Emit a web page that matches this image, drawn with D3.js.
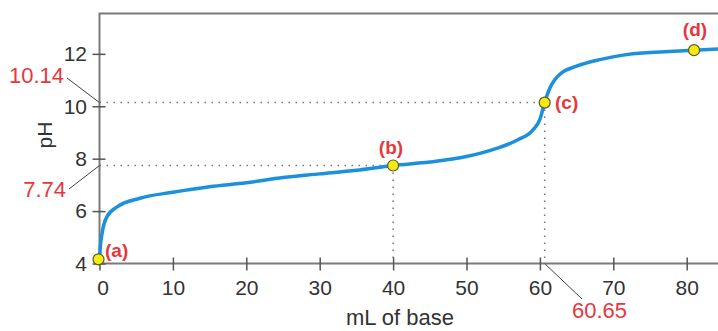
<!DOCTYPE html>
<html>
<head>
<meta charset="utf-8">
<script src="https://cdn.jsdelivr.net/npm/d3@7"></script>
<style>
  body { margin: 0; background: #fff; }
  svg { display: block; font-family: "Liberation Sans", Arial, sans-serif; }
</style>
</head>
<body>
<div id="chart"></div>
<script>
// titration curve
const volume = [0, 0.1, 0.35, 1, 2.4, 5.5, 10, 15, 20, 25, 30, 35, 40, 45, 50, 54, 57, 59, 60, 60.65, 61.3, 62, 63, 65, 68, 72, 77, 81, 85];
const pH = [4.16, 4.6, 5.15, 5.78, 6.16, 6.49, 6.72, 6.93, 7.08, 7.28, 7.42, 7.56, 7.74, 7.87, 8.08, 8.38, 8.72, 9.08, 9.5, 10.14, 10.66, 11.0, 11.28, 11.53, 11.77, 11.98, 12.08, 12.14, 12.2];

// marked points
const pointNames = ["(a)", "(b)", "(c)", "(d)"];
const pointVol = [0, 40, 60.65, 81];
const pointPH = [4.16, 7.74, 10.14, 12.14];

const xTicks = [0, 10, 20, 30, 40, 50, 60, 70, 80];
const yTicks = [4, 6, 8, 10, 12];

const width = 718, height = 331;
const red = "#e8373c";

const x = d3.scaleLinear().domain([0, 85]).range([99.5, 99.5 + 85 * 7.34]);
const y = d3.scaleLinear().domain([4, 13.54]).range([263.5, 13.5]);

const svg = d3.select("#chart").append("svg")
    .attr("width", width)
    .attr("height", height);

// dotted guides
const guides = [
    [x(0), y(10.14), x(60.65), y(10.14)],
    [x(0), y(7.74), x(40), y(7.74)],
    [x(40), y(7.74), x(40), y(4)],
    [x(60.65), y(10.14), x(60.65), y(4)]
];
svg.append("g")
    .attr("stroke", "#777")
    .attr("stroke-width", 1.5)
    .attr("stroke-dasharray", "1.5,5.5")
    .selectAll("line")
    .data(guides)
    .join("line")
    .attr("x1", d => d[0]).attr("y1", d => d[1])
    .attr("x2", d => d[2]).attr("y2", d => d[3]);

// frame: top, left, bottom
svg.append("path")
    .attr("d", `M${width + 5},${y.range()[1]}H${x(0)}V${y(4)}H${width + 5}`)
    .attr("fill", "none")
    .attr("stroke", "#7a7a7a")
    .attr("stroke-width", 2);

// axes
const xAxis = svg.append("g")
    .attr("transform", `translate(0,${y(4)})`)
    .call(d3.axisBottom(x).tickValues(xTicks).tickSize(7).tickPadding(10).tickFormat(d3.format("d")));
xAxis.select(".domain").remove();
xAxis.selectAll(".tick line").attr("y1", -6).attr("stroke", "#555").attr("stroke-width", 1.5);
xAxis.selectAll(".tick text").attr("font-size", 21).attr("fill", "#333").attr("font-family", null)
    .attr("dx", d => d === 0 ? 3 : 0);

const yAxis = svg.append("g")
    .attr("transform", `translate(${x(0)},0)`)
    .call(d3.axisLeft(y).tickValues(yTicks).tickSize(7).tickPadding(5.5));
yAxis.select(".domain").remove();
yAxis.selectAll(".tick line").attr("x1", 6).attr("stroke", "#555").attr("stroke-width", 1.5);
yAxis.selectAll(".tick text").attr("font-size", 21).attr("fill", "#333").attr("font-family", null);

// axis titles
svg.append("text")
    .attr("x", 400).attr("y", 325)
    .attr("text-anchor", "middle")
    .attr("font-size", 22).attr("fill", "#333")
    .text("mL of base");

svg.append("text")
    .attr("transform", "translate(52,135) rotate(-90)")
    .attr("text-anchor", "middle")
    .attr("font-size", 21).attr("fill", "#333")
    .text("pH");

// curve
const line = d3.line()
    .x((d, i) => x(volume[i]))
    .y(d => y(d))
    .curve(d3.curveMonotoneX);

svg.append("path")
    .datum(pH)
    .attr("d", line)
    .attr("fill", "none")
    .attr("stroke", "#1b90dd")
    .attr("stroke-width", 3.5)
    .attr("stroke-linejoin", "round")
    .attr("stroke-linecap", "round");

// red value callouts with leader lines
const callouts = [
    { text: "10.14", tx: 64, ty: 83, anchor: "end", from: [67, 78], to: [x(0), y(10.14)] },
    { text: "7.74", tx: 66, ty: 197, anchor: "end", from: [69, 189], to: [x(0), y(7.74)] },
    { text: "60.65", tx: 599.5, ty: 318, anchor: "middle", from: [x(60.65), y(4)], to: [582, 299] }
];
svg.append("g")
    .attr("stroke", "#444")
    .attr("stroke-width", 1)
    .selectAll("line")
    .data(callouts)
    .join("line")
    .attr("x1", d => d.from[0]).attr("y1", d => d.from[1])
    .attr("x2", d => d.to[0]).attr("y2", d => d.to[1]);
svg.append("g")
    .selectAll("text")
    .data(callouts)
    .join("text")
    .attr("x", d => d.tx).attr("y", d => d.ty)
    .attr("text-anchor", d => d.anchor)
    .attr("font-size", 22)
    .attr("fill", red)
    .text(d => d.text);

// marked points
svg.append("g")
    .selectAll("circle")
    .data(pointNames)
    .join("circle")
    .attr("cx", (d, i) => x(pointVol[i]) - (i === 0 ? 1 : 0))
    .attr("cy", (d, i) => y(pointPH[i]))
    .attr("r", 5.5)
    .attr("fill", "#f6ea12")
    .attr("stroke", "#5a5a2a")
    .attr("stroke-width", 1.2);

// point labels
const labelPos = [[105, 257, "start"], [391, 154, "middle"], [555, 109, "start"], [695, 36, "middle"]];
svg.append("g")
    .selectAll("text")
    .data(pointNames)
    .join("text")
    .attr("x", (d, i) => labelPos[i][0])
    .attr("y", (d, i) => labelPos[i][1])
    .attr("text-anchor", (d, i) => labelPos[i][2])
    .attr("font-size", 19)
    .attr("font-weight", "bold")
    .attr("fill", red)
    .text(d => d);
</script>
</body>
</html>
